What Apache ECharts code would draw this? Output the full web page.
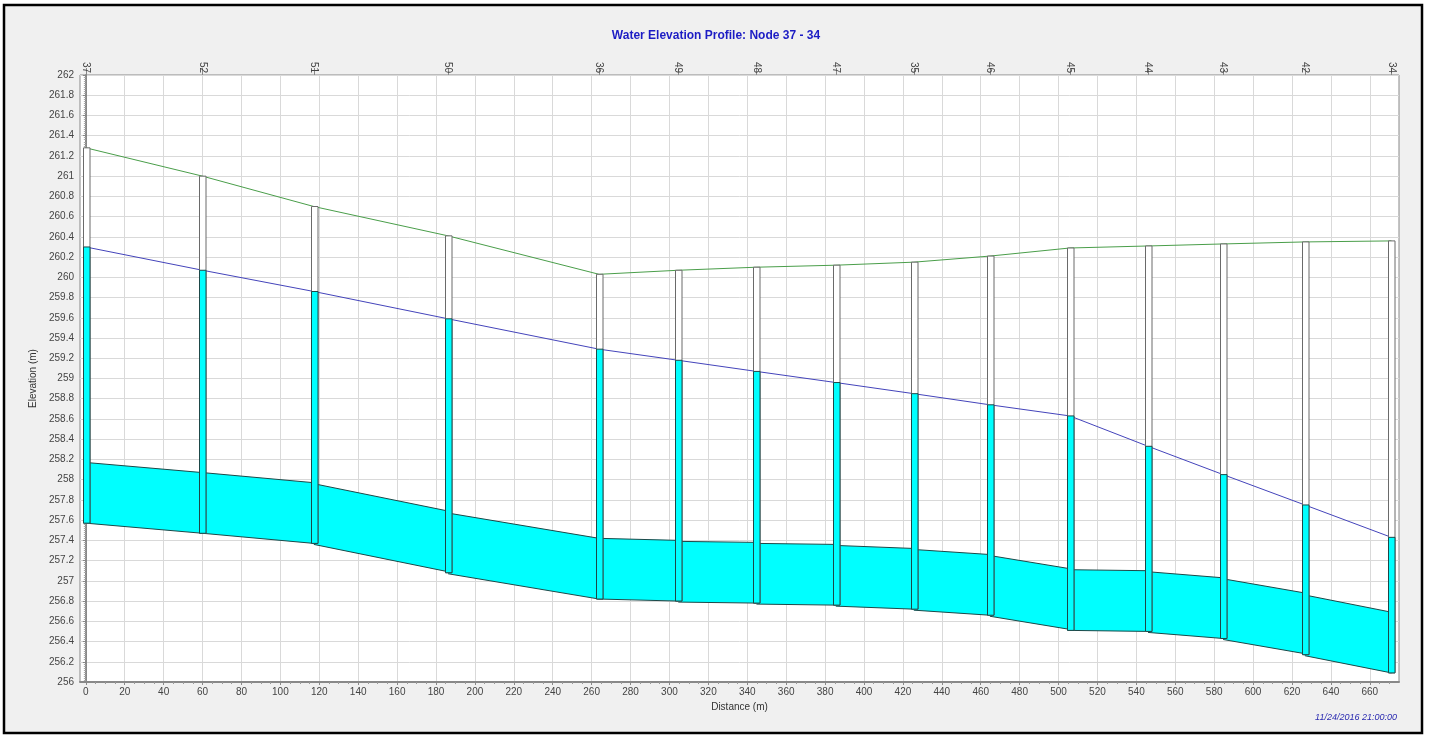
<!DOCTYPE html>
<html>
<head>
<meta charset="utf-8">
<script src="https://cdn.jsdelivr.net/npm/echarts@6/dist/echarts.min.js"></script>
<style>
html,body{margin:0;padding:0;background:#fff;}
#chart{width:1432px;height:735px;}
</style>
</head>
<body>
<div id="chart"></div>
<script>
// ---- data ----
const nodeNames = ['37','52','51','50','36','49','48','47','35','46','45','44','43','42','34'];
const nodeDist  = [0, 60, 117.2, 186.2, 263.8, 304.5, 344.7, 385.5, 425.6, 464.7, 505.8, 546.0, 584.6, 626.6, 671.1];
const groundElev = [261.28, 261.0, 260.70, 260.41, 260.03, 260.07, 260.10, 260.12, 260.15, 260.21, 260.29, 260.31, 260.33, 260.35, 260.36];
const waterElev  = [260.30, 260.07, 259.86, 259.59, 259.29, 259.18, 259.07, 258.96, 258.85, 258.74, 258.63, 258.33, 258.05, 257.75, 257.43];
const invertElev = [257.57, 257.47, 257.37, 257.08, 256.82, 256.80, 256.78, 256.76, 256.72, 256.66, 256.51, 256.50, 256.43, 256.27, 256.09];
// pipes between consecutive nodes
const pipeUpInvert   = [257.57, 257.47, 257.36, 257.07, 256.82, 256.79, 256.77, 256.75, 256.71, 256.65, 256.51, 256.49, 256.42, 256.26];
const pipeDownInvert = [257.47, 257.37, 257.09, 256.82, 256.80, 256.78, 256.76, 256.72, 256.66, 256.52, 256.50, 256.43, 256.28, 256.09];
const pipeDiameter   = [0.6, 0.6, 0.6, 0.6, 0.6, 0.6, 0.6, 0.6, 0.6, 0.6, 0.6, 0.6, 0.6, 0.6];
// tick labels
const xTicks = [0,20,40,60,80,100,120,140,160,180,200,220,240,260,280,300,320,340,360,380,400,420,440,460,480,500,520,540,560,580,600,620,640,660];
const xMinorTicks = [];
for (let v = 0; v <= 670; v += 5) { if (v % 20 !== 0) xMinorTicks.push(v); }

const chart = echarts.init(document.getElementById('chart'));

const nodeData = nodeDist.map((d, i) => [d, invertElev[i], waterElev[i], groundElev[i]]);
const pipeData = pipeUpInvert.map((u, i) => [nodeDist[i], nodeDist[i+1], u, pipeDownInvert[i], pipeDiameter[i]]);

const labelFont = {fontFamily: 'Liberation Sans, Arial, sans-serif', fontSize: 10, color: '#444'};

chart.setOption({
  animation: false,
  backgroundColor: '#ffffff',
  title: {
    text: 'Water Elevation Profile: Node 37 - 34',
    left: 'center', top: 25,
    textStyle: {fontFamily: 'Liberation Sans, Arial, sans-serif', fontSize: 12, fontWeight: 'bold', color: '#1c1cc4'}
  },
  grid: {
    left: 80, right: 33, top: 75, bottom: 53,
    show: true, backgroundColor: '#ffffff', borderColor: '#888', borderWidth: 1,
    containLabel: false, outerBoundsMode: 'none'
  },
  xAxis: [
    {
      type: 'value', position: 'bottom', min: -3, max: 675,
      name: 'Distance (m)', nameLocation: 'middle', nameGap: 20,
      nameTextStyle: {fontFamily: 'Liberation Sans, Arial, sans-serif', fontSize: 10, color: '#333'},
      axisLine: {show: true, onZero: false, lineStyle: {color: '#888', width: 2}},
      axisTick: {show: true, customValues: xTicks, length: 3, inside: false, lineStyle: {color: '#888'}},
      axisLabel: Object.assign({customValues: xTicks, margin: 5}, labelFont),
      splitLine: {show: true, lineStyle: {color: '#d9d9d9', width: 1}},
      minorTick: {show: false}
    },
    {
      type: 'value', position: 'top', min: -3, max: 675,
      axisLine: {show: false},
      axisTick: {show: true, customValues: nodeDist, length: 7, lineStyle: {color: '#888'}},
      axisLabel: Object.assign({
        customValues: nodeDist, rotate: 90, margin: 2,
        formatter: v => { const i = nodeDist.indexOf(v); return i >= 0 ? nodeNames[i] : ''; }
      }, labelFont),
      splitLine: {show: false}
    },
    {
      type: 'value', position: 'bottom', min: -3, max: 675,
      axisLine: {show: false},
      axisTick: {show: true, customValues: xMinorTicks, length: 2, lineStyle: {color: '#999'}},
      axisLabel: {show: false},
      splitLine: {show: false}
    }
  ],
  yAxis: {
    type: 'value', min: 256, max: 262, interval: 0.2,
    name: 'Elevation (m)', nameLocation: 'middle', nameGap: 37,
    nameTextStyle: {fontFamily: 'Liberation Sans, Arial, sans-serif', fontSize: 10, color: '#333'},
    axisLine: {show: true, lineStyle: {color: '#888', width: 2}},
    axisTick: {show: true, length: 3, lineStyle: {color: '#888'}},
    minorTick: {show: true, splitNumber: 10, length: 2, lineStyle: {color: '#aaa'}},
    axisLabel: Object.assign({margin: 6}, labelFont),
    splitLine: {show: true, lineStyle: {color: '#d9d9d9', width: 1}}
  },
  series: [
    {
      type: 'custom', name: 'pipes', xAxisIndex: 0, z: 2,
      data: pipeData,
      encode: {x: [0, 1], y: [2, 3]},
      renderItem: (params, api) => {
        const x1 = api.value(0), x2 = api.value(1), b1 = api.value(2), b2 = api.value(3), d = api.value(4);
        const p1 = api.coord([x1, b1]), p2 = api.coord([x2, b2]);
        const p3 = api.coord([x2, b2 + d]), p4 = api.coord([x1, b1 + d]);
        return {
          type: 'group',
          children: [
            {type: 'polygon', shape: {points: [p1, p2, p3, p4]}, style: {fill: '#00ffff', stroke: null}},
            {type: 'line', shape: {x1: p1[0], y1: p1[1], x2: p2[0], y2: p2[1]}, style: {stroke: '#1d4848', lineWidth: 1}},
            {type: 'line', shape: {x1: p4[0], y1: p4[1], x2: p3[0], y2: p3[1]}, style: {stroke: '#1d4848', lineWidth: 1}}
          ]
        };
      }
    },
    {
      type: 'line', name: 'Ground', xAxisIndex: 0, z: 3,
      data: nodeDist.map((d, i) => [d, groundElev[i]]),
      symbol: 'none', lineStyle: {color: '#4a9e4a', width: 1}
    },
    {
      type: 'line', name: 'Water', xAxisIndex: 0, z: 3,
      data: nodeDist.map((d, i) => [d, waterElev[i]]),
      symbol: 'none', lineStyle: {color: '#4444bb', width: 1}
    },
    {
      type: 'custom', name: 'nodes', xAxisIndex: 0, z: 4,
      data: nodeData,
      encode: {x: 0, y: [1, 2, 3]},
      renderItem: (params, api) => {
        const x = api.value(0), inv = api.value(1), wat = api.value(2), gr = api.value(3);
        const pb = api.coord([x, inv]), pw = api.coord([x, wat]), pg = api.coord([x, gr]);
        const w = 6.5;
        const left = Math.round(pb[0] - w / 2) + 0.5;
        return {
          type: 'group',
          children: [
            {type: 'rect', shape: {x: left, y: pg[1], width: w, height: pb[1] - pg[1]}, style: {fill: '#ffffff', stroke: '#6a6a6a', lineWidth: 1}},
            {type: 'rect', shape: {x: left, y: pw[1], width: w, height: pb[1] - pw[1]}, style: {fill: '#00ffff', stroke: '#1d4848', lineWidth: 1}}
          ]
        };
      }
    }
  ],
  graphic: [
    {type: 'rect', silent: true, z: -10, shape: {x: 4, y: 5, width: 1418, height: 728}, style: {fill: '#f0f0f0', stroke: null}},
    {type: 'rect', silent: true, z: 100, shape: {x: 4, y: 5, width: 1418, height: 728}, style: {fill: null, stroke: '#000', lineWidth: 2.5}},
    {type: 'text', silent: true, z: 100, right: 35, top: 713,
      style: {text: '11/24/2016 21:00:00', fontFamily: 'Liberation Sans, Arial, sans-serif', fontSize: 9, fontStyle: 'italic', fill: '#2a2ab0'}}
  ]
});
</script>
</body>
</html>
